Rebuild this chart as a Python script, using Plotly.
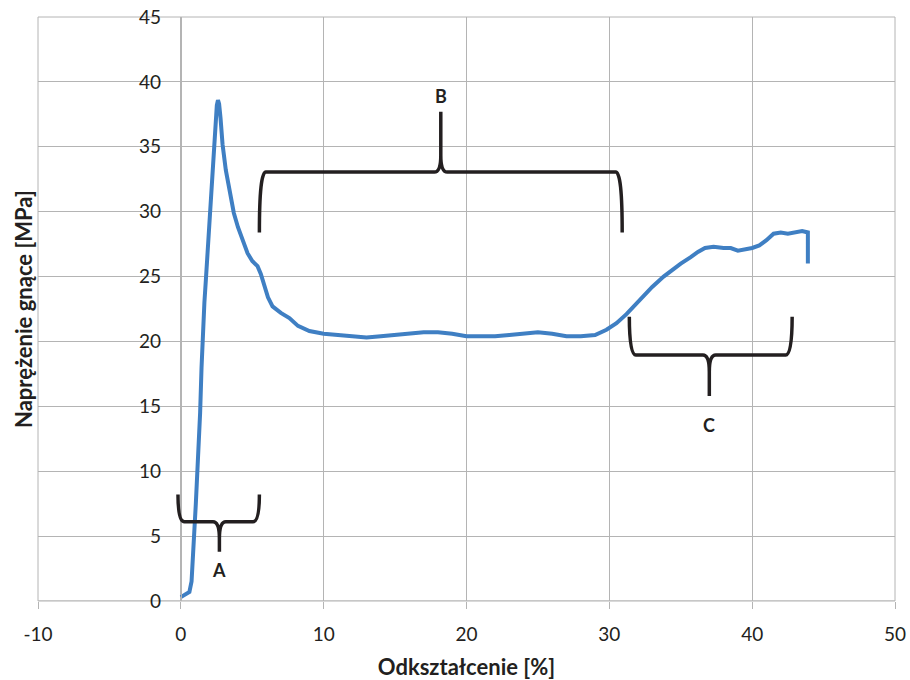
import plotly.graph_objects as go

# ---- data ----
strain = [0.0, 0.3, 0.6, 0.75, 0.85, 0.95, 1.05, 1.15, 1.25, 1.35, 1.45, 1.55, 1.65, 1.75,
          1.9, 2.05, 2.2, 2.32, 2.42, 2.52, 2.6, 2.68, 2.78, 2.92, 3.15, 3.38, 3.71, 4.0, 4.3,
          4.67, 5.0, 5.37, 5.6, 5.83, 6.1, 6.42, 7.0, 7.6, 8.2, 9.0, 10.0, 11.0, 12.0,
          13.0, 14.0, 15.0, 16.0, 17.0, 18.0, 19.0, 20.0, 21.0, 22.0, 23.0, 24.0, 25.0,
          26.0, 27.0, 28.0, 29.0, 29.8, 30.5, 31.2, 31.8, 32.4, 33.0, 33.8, 34.5, 35.0,
          35.7, 36.2, 36.7, 37.3, 38.0, 38.5, 39.0, 39.5, 40.0, 40.5, 41.0, 41.5, 42.0,
          42.5, 43.0, 43.5, 43.9, 43.9]
stress = [0.3, 0.5, 0.7, 1.5, 3.0, 5.5, 7.5, 9.5, 12.0, 14.5, 18.0, 21.3, 23.0, 24.7,
          27.5, 30.5, 32.8, 35.2, 37.0, 38.2, 38.6, 38.3, 37.2, 35.2, 33.2, 31.7, 29.9, 28.8, 27.8,
          26.8, 26.2, 25.8, 25.2, 24.4, 23.4, 22.7, 22.2, 21.8, 21.2, 20.8, 20.6, 20.5, 20.4,
          20.3, 20.4, 20.5, 20.6, 20.7, 20.7, 20.6, 20.4, 20.4, 20.4, 20.5, 20.6, 20.7,
          20.6, 20.4, 20.4, 20.5, 20.9, 21.4, 22.1, 22.8, 23.6, 24.2, 25.0, 25.6, 26.0,
          26.5, 26.9, 27.2, 27.3, 27.2, 27.2, 27.0, 27.1, 27.2, 27.4, 27.8, 28.3, 28.4,
          28.3, 28.4, 28.5, 28.4, 26.0]

x_ticks = [-10, 0, 10, 20, 30, 40, 50]
y_ticks = [0, 5, 10, 15, 20, 25, 30, 35, 40, 45]

# braces: label, x start, x end, x centre, y of bar, y of ends, y of tip, y of label
brace_labels = ["A", "B", "C"]
brace_x0 = [-0.2, 5.5, 31.4]
brace_x1 = [5.5, 30.9, 42.8]
brace_xc = [2.7, 18.2, 37.0]
brace_ybar = [6.1, 33.05, 18.95]
brace_yend = [8.2, 28.4, 21.9]
brace_ytip = [3.8, 37.7, 15.8]
brace_ylab = [2.4, 38.9, 13.6]

TXT = "#231f20"
GRID = "#b4b4b4"

fig = go.Figure()
fig.add_trace(go.Scatter(x=strain, y=stress, mode="lines",
                         line=dict(color="#3f7fc3", width=4), hoverinfo="skip",
                         showlegend=False))

shapes = []
annotations = []
for lab, x0, x1, xc, yb, ye, yt, yl in zip(brace_labels, brace_x0, brace_x1, brace_xc,
                                            brace_ybar, brace_yend, brace_ytip, brace_ylab):
    dx = 0.45
    dc = 0.45
    sgn = 1 if yt > yb else -1
    ym = yb + sgn * 1.3
    path = (f"M {x0},{ye} Q {x0},{yb} {x0 + dx},{yb} L {xc - dc},{yb} "
            f"Q {xc},{yb} {xc},{ym} L {xc},{yt} M {xc},{ym} "
            f"Q {xc},{yb} {xc + dc},{yb} L {x1 - dx},{yb} Q {x1},{yb} {x1},{ye}")
    shapes.append(dict(type="path", path=path, xref="x", yref="y",
                       line=dict(color=TXT, width=3.5)))
    annotations.append(dict(x=xc, y=yl, xref="x", yref="y", text=f"<b>{lab}</b>",
                            showarrow=False, font=dict(family="Lato", size=18, color=TXT)))

fig.update_layout(
    width=910, height=680,
    margin=dict(l=38, r=15, t=17, b=79, autoexpand=False),
    paper_bgcolor="white", plot_bgcolor="white",
    font=dict(family="Lato", color=TXT),
    shapes=shapes, annotations=annotations,
    xaxis=dict(range=[-10, 50], tickvals=x_ticks, ticktext=[str(v) for v in x_ticks],
               showgrid=True, gridcolor=GRID, gridwidth=1, zeroline=False,
               showline=False, ticks="outside", ticklen=7, tickcolor=GRID,
               ticklabelstandoff=9, anchor="y", automargin=False,
               ticklabeloverflow="allow",
               tickfont=dict(family="Lato", size=19, color=TXT),
               title=dict(text="<b>Odkształcenie [%]</b>", standoff=15,
                          font=dict(family="Lato", size=22, color=TXT))),
    yaxis=dict(range=[0, 45], tickvals=y_ticks, ticktext=[str(v) for v in y_ticks],
               showgrid=True, gridcolor=GRID, gridwidth=1, zeroline=False,
               showline=True, linecolor=GRID, linewidth=1, ticks="",
               anchor="free", position=1/6, ticklabelstandoff=16, automargin=False,
               ticklabeloverflow="allow",
               tickfont=dict(family="Lato", size=19, color=TXT)),
)
fig.add_annotation(x=0.0, y=0.5, xref="paper", yref="paper", xshift=-15,
                   xanchor="center", yanchor="middle",
                   text="<b>Naprężenie gnące [MPa]</b>", textangle=-90, showarrow=False,
                   font=dict(family="Lato", size=22, color=TXT))
# border lines on plot area
fig.add_shape(type="rect", xref="paper", yref="paper", x0=0, y0=0, x1=1, y1=1,
              line=dict(color=GRID, width=1), layer="below")
# x axis line at y=0
fig.add_shape(type="line", xref="x", yref="y", x0=-10, x1=50, y0=0, y1=0,
              line=dict(color=GRID, width=1), layer="below")

fig.write_html("out.html", config={"displayModeBar": False},
               post_script="document.body.style.margin='0';document.body.style.overflow='hidden';")
